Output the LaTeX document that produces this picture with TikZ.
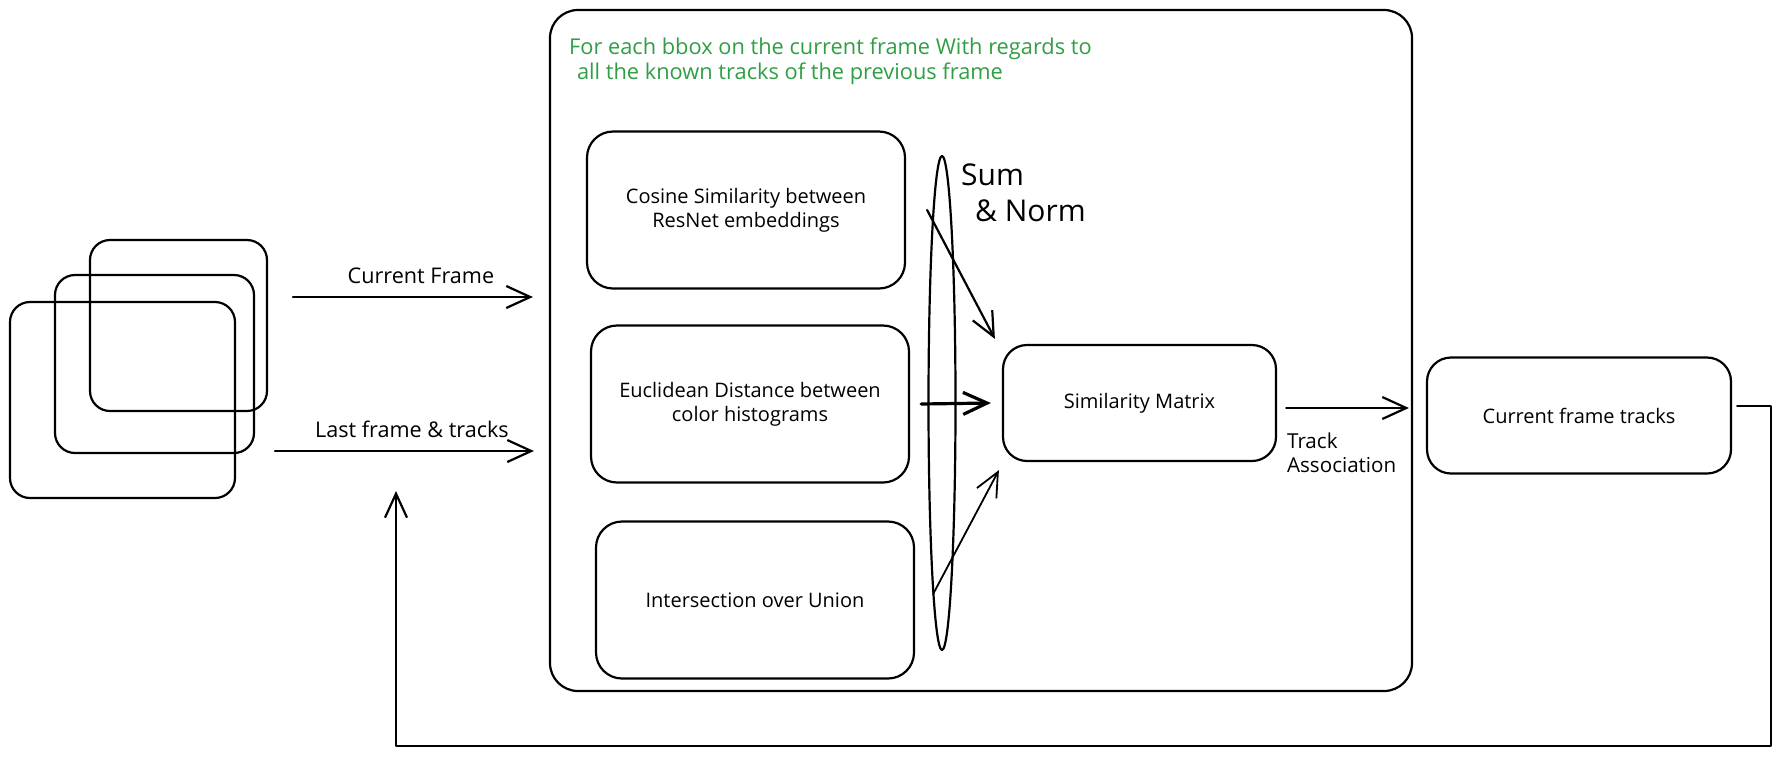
\documentclass[tikz,border=0pt]{standalone}
\usepackage{fontspec}
\setmainfont{Open Sans}
\usetikzlibrary{arrows.meta,shapes.geometric,positioning}

\definecolor{notegreen}{RGB}{47,158,68}

\begin{document}
\begin{tikzpicture}[x=0.5pt,y=-0.5pt,>={Straight Barb[length=12pt,width=11pt]},
                  line width=1.1pt,line cap=round,line join=round,
                  frame box/.style={draw,rounded corners=10pt,inner sep=0pt},
                  metric box/.style={draw,rounded corners=13pt,minimum width=159pt,minimum height=78.5pt,
                                     align=center,font=\fontsize{10}{12}\selectfont},
                  result box/.style={draw,rounded corners=12pt,minimum height=58pt,
                                     align=center,font=\fontsize{10}{12}\selectfont},
                  arrow label/.style={font=\fontsize{10.8}{12}\selectfont}]

    \useasboundingbox (0,0) rectangle (1781,756);

    % stacked video frames
    \node[frame box,minimum width=88.5pt,minimum height=85.5pt] (frameback) at (178.5,325.5) {};
    \node[frame box,minimum width=99.5pt,minimum height=89pt] (framemid) at (154.5,364) {};
    \node[frame box,minimum width=112.5pt,minimum height=98pt] (framefront) at (122.5,400) {};

    % per-bbox loop
    \node[draw,rounded corners=14pt,minimum width=431pt,minimum height=340.5pt,inner sep=0pt] (loopbox) at (981,350.5) {};
    \node[anchor=north west,align=left,inner sep=0pt,text=notegreen,font=\fontsize{10.9}{12.5}\selectfont]
        (note) at (568,37) {For each bbox on the current frame With regards to\\\hspace*{4pt}all the known tracks of the previous frame};

    \node[metric box] (cosine) at (746,210) {Cosine Similarity between\\ResNet embeddings};
    \node[metric box] (euclid) at (750,404) {Euclidean Distance between\\color histograms};
    \node[metric box] (iou) at (755,600) {Intersection over Union};

    \node[draw,ellipse,minimum width=13.5pt,minimum height=247pt,inner sep=0pt] (summ) at (942,403) {};
    \node[anchor=north west,align=left,inner sep=0pt,font=\fontsize{15}{18}\selectfont]
        (sumlabel) at (960,163) {Sum\\\hspace*{7pt}\& Norm};

    \node[result box,minimum width=136.5pt] (simmat) at (1139.5,403) {Similarity Matrix};
    \node[result box,minimum width=152pt] (cft) at (1579,415.5) {Current frame tracks};

    % inputs
    \coordinate (cfstart) at (293,297);
    \coordinate (lfstart) at (275,451);
    \draw[->,shorten >=8pt] (cfstart) -- node[arrow label,above=3pt] {Current Frame} (cfstart -| loopbox.west);
    \draw[->,shorten >=7.5pt] (lfstart) -- node[arrow label,above=3pt] {Last frame \& tracks} (lfstart -| loopbox.west);

    % metrics into the matrix
    \draw[->] ([xshift=10.5pt]cosine.east) -- ([xshift=-3.5pt,yshift=2.5pt]simmat.north west);
    \draw[->,line width=1.6pt] ([xshift=5.5pt]euclid.east) -- ([xshift=-5.5pt]simmat.west);
    \draw[->,line width=0.9pt] ([xshift=9pt,yshift=3pt]iou.east) -- ([xshift=-1.5pt,yshift=-4pt]simmat.south west);

    % association and feedback
    \draw[->,shorten <=4.5pt,shorten >=8.5pt] ([yshift=-2.5pt]simmat.east) -- ([yshift=-2.5pt]simmat.east -| cft.west);
    \node[arrow label,font=\fontsize{10.3}{12}\selectfont,anchor=north west,align=left,inner sep=0pt] (assoc) at (1286,432) {Track\\Association};

    \coordinate (loopright) at (1771,746);
    \coordinate (loopend) at (396,491);
    \draw[->] ([xshift=2.5pt,yshift=4.75pt]cft.east) -| (loopright) -| (loopend);
\end{tikzpicture}
\end{document}
